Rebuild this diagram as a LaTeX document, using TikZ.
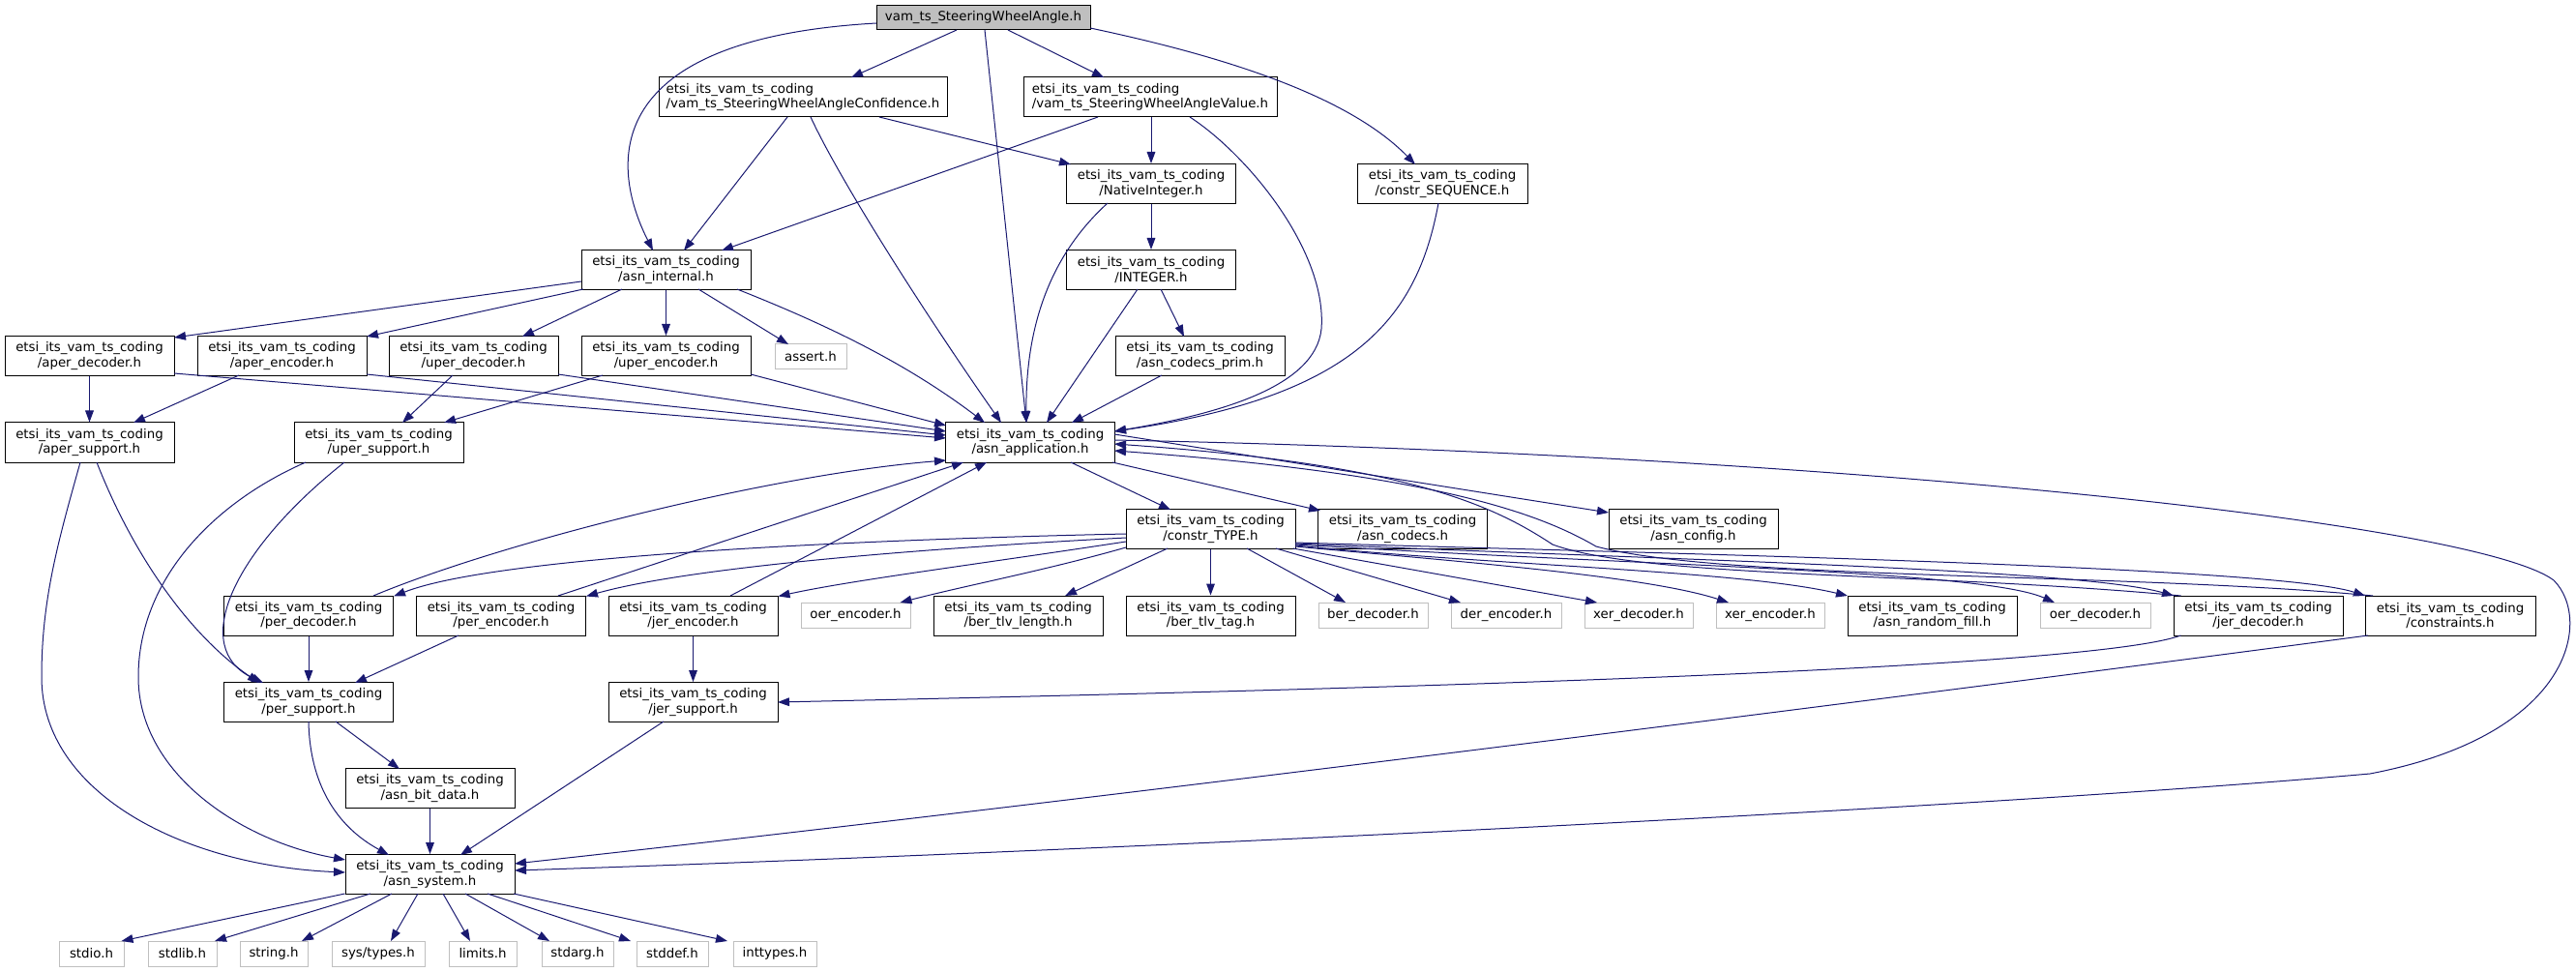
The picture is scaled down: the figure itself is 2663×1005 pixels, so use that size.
\documentclass[tikz,border=0pt]{standalone}
\usepackage{fontspec}
\setmainfont{DejaVu Sans}
\usetikzlibrary{arrows.meta,calc}
\definecolor{mblue}{RGB}{25,25,112}
\definecolor{leafgray}{RGB}{191,191,191}
\begin{document}
\begin{tikzpicture}[x=0.75pt,y=-0.75pt,
 every node/.style={font=\fontsize{10pt}{11.7pt}\selectfont, inner sep=0pt},
 box/.style={draw=black, fill=white, line width=0.75pt, align=center, minimum width=131.25pt, minimum height=30.75pt},
 wd/.style={minimum width=#1*0.75pt},
 leaf/.style={draw=leafgray, fill=white, line width=0.75pt, minimum height=19.5pt, minimum width=#1*0.75pt},
 edge/.style={draw=mblue, line width=0.75pt, -{Triangle[length=9pt,width=6.5pt]}},
]
\useasboundingbox (0,0) rectangle (2663,1005);
% nodes
\node[box, fill=leafgray, minimum height=18.75pt, wd=221] (top) at (1016.5,18.5) {vam\_ts\_SteeringWheelAngle.h};
\node[box, wd=298, align=left] (conf) at (830,100.5) {etsi\_its\_vam\_ts\_coding\\/vam\_ts\_SteeringWheelAngleConfidence.h};
\node[box, wd=262, align=left] (value) at (1189,100.5) {etsi\_its\_vam\_ts\_coding\\/vam\_ts\_SteeringWheelAngleValue.h};
\node[box] (native) at (1190,190) {etsi\_its\_vam\_ts\_coding\\/NativeInteger.h};
\node[box, wd=176] (seq) at (1491,190) {etsi\_its\_vam\_ts\_coding\\/constr\_SEQUENCE.h};
\node[box] (asnint) at (688.5,279) {etsi\_its\_vam\_ts\_coding\\/asn\_internal.h};
\node[box] (integer) at (1190,279) {etsi\_its\_vam\_ts\_coding\\/INTEGER.h};
\node[box] (aperdec) at (92.5,368) {etsi\_its\_vam\_ts\_coding\\/aper\_decoder.h};
\node[box] (aperenc) at (291.5,368) {etsi\_its\_vam\_ts\_coding\\/aper\_encoder.h};
\node[box] (uperdec) at (489.5,368) {etsi\_its\_vam\_ts\_coding\\/uper\_decoder.h};
\node[box] (uperenc) at (688.5,368) {etsi\_its\_vam\_ts\_coding\\/uper\_encoder.h};
\node[leaf=74] (assert) at (838,368.5) {assert.h};
\node[box] (prim) at (1240.5,368) {etsi\_its\_vam\_ts\_coding\\/asn\_codecs\_prim.h};
\node[box] (apersup) at (92.5,457.5) {etsi\_its\_vam\_ts\_coding\\/aper\_support.h};
\node[box] (upersup) at (391.5,457.5) {etsi\_its\_vam\_ts\_coding\\/uper\_support.h};
\node[box] (app) at (1065,457.5) {etsi\_its\_vam\_ts\_coding\\/asn\_application.h};
\node[box] (ctype) at (1251.5,547) {etsi\_its\_vam\_ts\_coding\\/constr\_TYPE.h};
\node[box] (codecs) at (1450,547) {etsi\_its\_vam\_ts\_coding\\/asn\_codecs.h};
\node[box] (config) at (1750.5,547) {etsi\_its\_vam\_ts\_coding\\/asn\_config.h};
\node[box] (perdec) at (319,636.5) {etsi\_its\_vam\_ts\_coding\\/per\_decoder.h};
\node[box] (perenc) at (518,636.5) {etsi\_its\_vam\_ts\_coding\\/per\_encoder.h};
\node[box] (jerenc) at (716.5,636.5) {etsi\_its\_vam\_ts\_coding\\/jer\_encoder.h};
\node[leaf=113] (oerenc) at (884.5,636.5) {oer\_encoder.h};
\node[box] (bertlvlen) at (1052.5,636.5) {etsi\_its\_vam\_ts\_coding\\/ber\_tlv\_length.h};
\node[box] (bertlvtag) at (1251.5,636.5) {etsi\_its\_vam\_ts\_coding\\/ber\_tlv\_tag.h};
\node[leaf=113] (berdec) at (1419.5,636.5) {ber\_decoder.h};
\node[leaf=114] (derenc) at (1557,636.5) {der\_encoder.h};
\node[leaf=112] (xerdec) at (1694,636.5) {xer\_decoder.h};
\node[leaf=112] (xerenc) at (1830,636.5) {xer\_encoder.h};
\node[box] (randfill) at (1997.5,636.5) {etsi\_its\_vam\_ts\_coding\\/asn\_random\_fill.h};
\node[leaf=114] (oerdec) at (2166,636.5) {oer\_decoder.h};
\node[box] (jerdec) at (2334.5,636.5) {etsi\_its\_vam\_ts\_coding\\/jer\_decoder.h};
\node[box, wd=176] (constraints) at (2533,636.5) {etsi\_its\_vam\_ts\_coding\\/constraints.h};
\node[box] (persup) at (319,726) {etsi\_its\_vam\_ts\_coding\\/per\_support.h};
\node[box] (jersup) at (716.5,726) {etsi\_its\_vam\_ts\_coding\\/jer\_support.h};
\node[box] (bitdata) at (444.5,815) {etsi\_its\_vam\_ts\_coding\\/asn\_bit\_data.h};
\node[box] (system) at (444.5,904) {etsi\_its\_vam\_ts\_coding\\/asn\_system.h};
\node[leaf=67] (stdio) at (94.5,986) {stdio.h};
\node[leaf=71] (stdlib) at (188.5,986) {stdlib.h};
\node[leaf=70] (string) at (283,986) {string.h};
\node[leaf=96] (systypes) at (391,986) {sys/types.h};
\node[leaf=70] (limits) at (499,986) {limits.h};
\node[leaf=74] (stdarg) at (597,986) {stdarg.h};
\node[leaf=74] (stddef) at (695,986) {stddef.h};
\node[leaf=86] (inttypes) at (801,986) {inttypes.h};
% edges from top
\draw[edge] ($(top)+(-110.5,5.5)$) .. controls (620,40) and (630,170) .. ($(asnint)+(-13.5,-20)$);
\draw[edge] ($(top)+(-27.5,12.5)$) -- ($(conf)+(50,-20.5)$);
\draw[edge] ($(top)+(1.5,12.5)$) -- ($(app)+(-4,-20.5)$);
\draw[edge] ($(top)+(25.5,12.5)$) -- ($(value)+(-48,-20.5)$);
\draw[edge] ($(top)+(110.5,10.5)$) .. controls (1250,55) and (1390,95) .. ($(seq)+(-28,-20)$);
% confidence
\draw[edge] ($(conf)+(-16,20.5)$) -- ($(asnint)+(18.5,-20)$);
\draw[edge] ($(conf)+(8,20.5)$) .. controls (870,190) and (960,330) .. ($(app)+(-30,-20.5)$);
\draw[edge] ($(conf)+(79,20.5)$) -- ($(native)+(-83,-20)$);
% value
\draw[edge] ($(value)+(-54,20.5)$) -- ($(asnint)+(57.5,-20)$);
\draw[edge] ($(value)+(1,20.5)$) -- (native.north);
\draw[edge] ($(value)+(41,20.5)$) .. controls (1290,160) and (1372,260) .. (1366,340) .. controls (1360,400) and (1260,428) .. ($(app)+(87,-11.5)$);
% native, integer, seq, prim
\draw[edge] (native.south) -- (integer.north);
\draw[edge] ($(native)+(-45,20)$) .. controls (1090,260) and (1060,330) .. ($(app)+(-4,-20.5)$);
\draw[edge] ($(integer)+(-14,20)$) -- ($(app)+(17,-20.5)$);
\draw[edge] ($(integer)+(10,20)$) -- ($(prim)+(-16.5,-20)$);
\draw[edge] ($(seq)+(-4,20)$) .. controls (1465,330) and (1400,410) .. ($(app)+(87,-11.5)$);
\draw[edge] ($(prim)+(-39.5,20)$) -- ($(app)+(43,-20.5)$);
% asn_internal
\draw[edge] ($(asnint)+(-87.5,12)$) -- ($(aperdec)+(87.5,-19)$);
\draw[edge] ($(asnint)+(-85.5,20)$) -- ($(aperenc)+(87.5,-20)$);
\draw[edge] ($(asnint)+(-45.5,20)$) -- ($(uperdec)+(50.5,-20)$);
\draw[edge] (asnint.south) -- (uperenc.north);
\draw[edge] ($(asnint)+(33.5,20)$) -- ($(assert)+(-23,-12.5)$);
\draw[edge] ($(asnint)+(73.5,20)$) .. controls (840,330) and (930,370) .. ($(app)+(-47,-20.5)$);
% aper / uper
\draw[edge] (aperdec.south) -- (apersup.north);
\draw[edge] ($(aperdec)+(87.5,18)$) -- ($(app)+(-87,-4.5)$);
\draw[edge] ($(aperenc)+(-44.5,20)$) -- ($(apersup)+(45.5,-20.5)$);
\draw[edge] ($(aperenc)+(87.5,19)$) -- ($(app)+(-87,-7.5)$);
\draw[edge] ($(uperdec)+(-21.5,20)$) -- ($(upersup)+(24.5,-20.5)$);
\draw[edge] ($(uperdec)+(87.5,19)$) -- ($(app)+(-87,-11.5)$);
\draw[edge] ($(uperenc)+(-65.5,20)$) -- ($(upersup)+(67.5,-20.5)$);
\draw[edge] ($(uperenc)+(87.5,19)$) -- ($(app)+(-87,-17.5)$);
\draw[edge] ($(apersup)+(-9.5,20.5)$) .. controls (60,560) and (43,620) .. (43,700) .. controls (43,820) and (190,895) .. ($(system)+(-87.5,-2)$);
\draw[edge] ($(apersup)+(7.5,20.5)$) .. controls (140,580) and (200,660) .. ($(persup)+(-51,-20)$);
\draw[edge] ($(upersup)+(-35.5,20.5)$) .. controls (240,570) and (195,670) .. ($(persup)+(-47,-20)$);
\draw[edge] ($(upersup)+(-75.5,20.5)$) .. controls (220,520) and (143,600) .. (143,700) .. controls (143,800) and (250,870) .. ($(system)+(-87.5,-15)$);
% per / jer
\draw[edge] ($(persup)+(28,20)$) -- ($(bitdata)+(-31.5,-20)$);
\draw[edge] ($(persup)+(0,20)$) .. controls (320,800) and (340,850) .. ($(system)+(-42.5,-20)$);
\draw[edge] (bitdata.south) -- (system.north);
\draw[edge] (perdec.south) -- (persup.north);
\draw[edge] ($(perenc)+(-44,20.5)$) -- ($(persup)+(48,-20)$);
\draw[edge] (jerenc.south) -- (jersup.north);
\draw[edge] ($(jersup)+(-30.5,20)$) -- ($(system)+(31.5,-20)$);
\draw[edge] ($(perdec)+(67,-20.5)$) .. controls (520,560) and (800,490) .. ($(app)+(-87,18.5)$);
\draw[edge] ($(perenc)+(59,-20.5)$) -- ($(app)+(-69,20.5)$);
\draw[edge] ($(jerenc)+(38.5,-20.5)$) -- ($(app)+(-45,20.5)$);
% asn_application outgoing
\draw[edge] ($(app)+(42,20.5)$) -- ($(ctype)+(-41.5,-20)$);
\draw[edge] ($(app)+(85,20.5)$) -- ($(codecs)+(-85,-19)$);
\draw[edge] ($(app)+(87,-8.5)$) -- ($(config)+(-87.5,-17)$);
\draw[edge] ($(app)+(87,-2.5)$) .. controls (1900,470) and (2560,540) .. (2640,600) .. controls (2680,640) and (2660,760) .. (2450,800) .. controls (2000,840) and (1000,885) .. ($(system)+(87.5,-4)$);
% back edges to asn_application
\draw[edge] ($(jerdec)+(-80,-20.5)$) .. controls (2000,592) and (1700,598) .. (1605,563) .. controls (1540,520) and (1450,480) .. ($(app)+(87,1.5)$);
\draw[edge] ($(constraints)+(-80,-20.5)$) .. controls (2200,592) and (1780,600) .. (1650,565) .. controls (1590,530) and (1480,490) .. ($(app)+(87,8.5)$);
% constr_TYPE fan
\draw[edge] ($(ctype)+(-87.5,5)$) .. controls (800,560) and (500,580) .. ($(perdec)+(88,-20)$);
\draw[edge] ($(ctype)+(-87.5,9)$) .. controls (900,570) and (700,590) .. ($(perenc)+(88,-20)$);
\draw[edge] ($(ctype)+(-87.5,13)$) .. controls (1000,585) and (880,600) .. ($(jerenc)+(88,-20)$);
\draw[edge] ($(ctype)+(-87.5,19)$) .. controls (1080,590) and (1000,605) .. ($(oerenc)+(46,-13.5)$);
\draw[edge] ($(ctype)+(-44.5,20)$) -- ($(bertlvlen)+(48.5,-20.5)$);
\draw[edge] (ctype.south) -- (bertlvtag.north);
\draw[edge] ($(ctype)+(37.5,20)$) -- ($(berdec)+(-28.5,-13.5)$);
\draw[edge] ($(ctype)+(67.5,20)$) -- ($(derenc)+(-47,-13.5)$);
\draw[edge] ($(ctype)+(85,20)$) -- ($(xerdec)+(-43,-13.5)$);
\draw[edge] ($(ctype)+(87.5,18)$) .. controls (1500,580) and (1700,595) .. ($(xerenc)+(-43,-13.5)$);
\draw[edge] ($(ctype)+(87.5,17)$) .. controls (1550,585) and (1800,590) .. ($(randfill)+(-87.5,-20.5)$);
\draw[edge] ($(ctype)+(87.5,16)$) .. controls (1700,585) and (2050,590) .. ($(oerdec)+(-42,-13.5)$);
\draw[edge] ($(ctype)+(87.5,15)$) .. controls (1700,578) and (2150,588) .. ($(jerdec)+(-87.5,-20.5)$);
\draw[edge] ($(ctype)+(87.5,14)$) .. controls (1700,572) and (2350,585) .. ($(constraints)+(-88,-20.5)$);
% to jer_support / asn_system from right
\draw[edge] ($(jerdec)+(-80,20.5)$) .. controls (2150,695) and (1300,715) .. ($(jersup)+(87.5,0)$);
\draw[edge] ($(constraints)+(-85,20.5)$) .. controls (2200,690) and (1200,820) .. ($(system)+(87.5,-11)$);
% asn_system leaves
\draw[edge] ($(system)+(-88,20)$) -- ($(stdio)+(31,-13)$);
\draw[edge] ($(system)+(-61.5,20)$) -- ($(stdlib)+(33.5,-13)$);
\draw[edge] ($(system)+(-39.5,20)$) -- ($(string)+(29,-13)$);
\draw[edge] ($(system)+(-12.5,20)$) -- ($(systypes)+(13,-13)$);
\draw[edge] ($(system)+(13.5,20)$) -- ($(limits)+(-13,-13)$);
\draw[edge] ($(system)+(36.5,20)$) -- ($(stdarg)+(-29,-13)$);
\draw[edge] ($(system)+(59.5,20)$) -- ($(stddef)+(-43,-13)$);
\draw[edge] ($(system)+(86.5,20)$) -- ($(inttypes)+(-49,-13)$);
\end{tikzpicture}
\end{document}
